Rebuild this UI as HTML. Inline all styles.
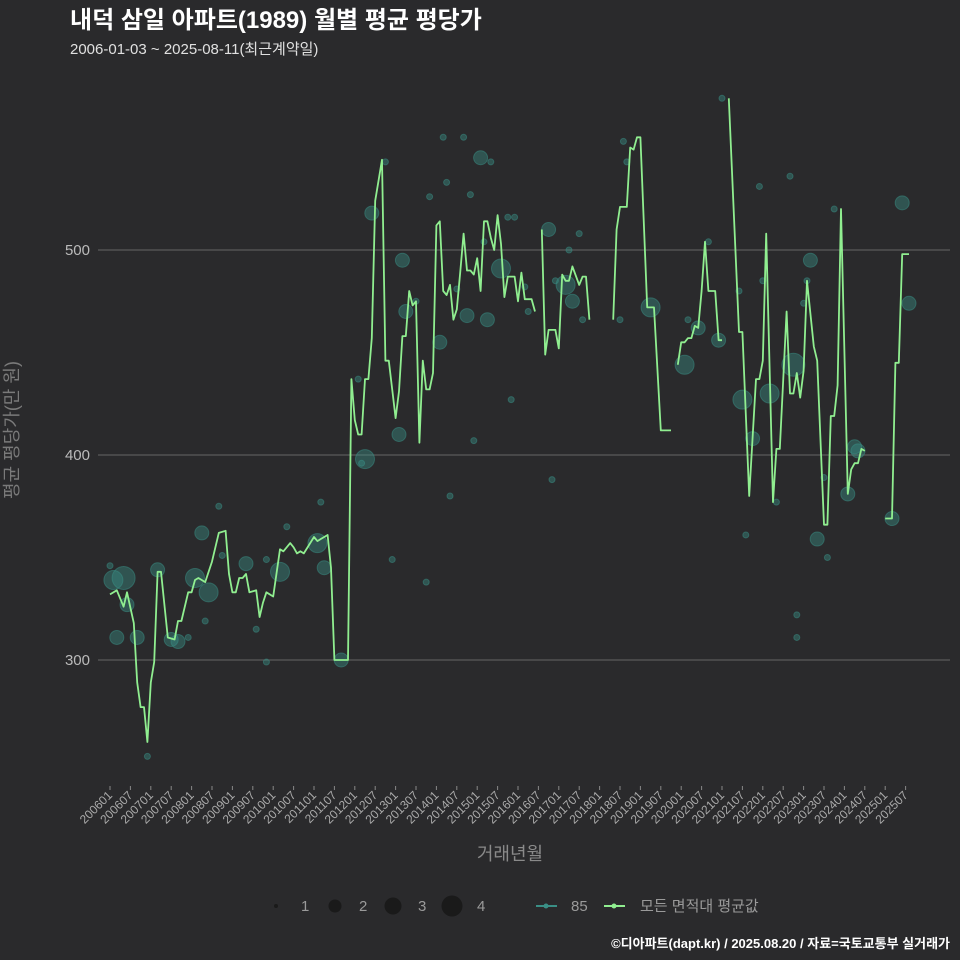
<!DOCTYPE html>
<html><head><meta charset="utf-8">
<style>
html,body{margin:0;padding:0;background:#2a2a2c;}
svg{display:block;font-family:"Liberation Sans","Noto Sans CJK KR",sans-serif;}
</style></head>
<body>
<svg id="chart" width="960" height="960" viewBox="0 0 960 960" xmlns="http://www.w3.org/2000/svg">
<rect x="0" y="0" width="960" height="960" fill="#2a2a2c"/>
<text x="70" y="28" fill="#ffffff" font-size="24" font-weight="bold">내덕 삼일 아파트(1989) 월별 평균 평당가</text>
<text x="70" y="54" fill="#e0e0e0" font-size="15">2006-01-03 ~ 2025-08-11(최근계약일)</text>
<g id="grid"></g>
<g id="yaxis"></g>
<g id="xaxis"></g>
<g id="bubbles"></g>
<g id="lines"></g>
<text x="18" y="430" fill="#7a7a7a" font-size="18" text-anchor="middle" transform="rotate(-90 18 430)">평균 평당가(만 원)</text>
<text x="510" y="860" fill="#8a8a8a" font-size="18" text-anchor="middle">거래년월</text>
<g>
  <circle cx="276" cy="906" r="2" fill="#1a1a1a"/>
  <text x="301" y="911" fill="#9a9a9a" font-size="15">1</text>
  <circle cx="335" cy="906" r="6.5" fill="#1a1a1a"/>
  <text x="359" y="911" fill="#9a9a9a" font-size="15">2</text>
  <circle cx="393" cy="906" r="8.5" fill="#1a1a1a"/>
  <text x="418" y="911" fill="#9a9a9a" font-size="15">3</text>
  <circle cx="452" cy="906" r="10.5" fill="#1a1a1a"/>
  <text x="477" y="911" fill="#9a9a9a" font-size="15">4</text>
  <line x1="536" y1="906" x2="557" y2="906" stroke="#3a8f86" stroke-width="2"/>
  <circle cx="546" cy="906" r="2.5" fill="#3a8f86"/>
  <text x="571" y="911" fill="#9a9a9a" font-size="15">85</text>
  <line x1="604" y1="906" x2="625" y2="906" stroke="#90ee90" stroke-width="2"/>
  <circle cx="614" cy="906" r="2.5" fill="#90ee90"/>
  <text x="640" y="911" fill="#9a9a9a" font-size="15">모든 면적대 평균값</text>
</g>
<text x="950" y="948" fill="#ffffff" font-size="13" font-weight="bold" text-anchor="end">©디아파트(dapt.kr) / 2025.08.20 / 자료=국토교통부 실거래가</text>
</svg>
<script>
const yTicks = [300, 400, 500];
const xTickLabels = ["200601","200607","200701","200707","200801","200807","200901","200907","201001","201007","201101","201107","201201","201207","201301","201307","201401","201407","201501","201507","201601","201607","201701","201707","201801","201807","201901","201907","202001","202007","202101","202107","202201","202207","202301","202307","202401","202407","202501","202507"];
const lineMonths = ["200601","200603","200605","200606","200608","200609","200610","200611","200612","200701","200702","200703","200704","200706","200708","200709","200710","200712","200801","200802","200803","200805","200807","200809","200811","200812","200901","200902","200903","200904","200905","200906","200908","200909","200910","200911","201001","201003","201004","201006","201007","201008","201009","201010","201101","201102","201103","201105","201106","201107","201111",
"201112","201201","201202","201203","201204","201205","201206","201207","201209","201210","201211","201301","201302","201303","201304","201305","201306","201307","201308","201309","201310","201311","201312","201401","201402","201403","201404","201405","201406","201407","201408","201409","201410","201411","201412","201501","201502","201503","201504","201505","201506","201507","201508","201509","201510","201512","201601","201602","201603","201605","201606","201607",
"201608","201609","201610","201612","201701","201702","201703","201704","201705","201707","201708","201709","201710","201711",
"201805","201806","201807","201809","201810","201811","201812","201901","201903","201905","201907","201910","201911",
"201912","202001","202002","202003","202004","202005","202006","202007","202008","202009","202011","202012","202101","202102",
"202103","202106","202107","202109","202111","202112","202201","202202","202204","202205","202206","202208","202209","202210","202211","202212","202301","202302","202304","202305","202307","202308","202309","202310","202311","202312","202402","202403","202404","202405","202406","202407","202408",
"202501","202503","202504","202505","202506","202508"];
const lineValues = [332,334,326,333,318,289,277,277,260,289,299,343,343,311,310,319,319,333,333,339,340,338,348,362,363,342,333,333,340,340,342,333,334,321,328,333,331,354,353,357,355,352,353,352,360,358,359,361,345,300,300,
437,417,410,410,437,437,457,524,544,446,446,418,431,458,458,480,473,475,406,446,432,432,440,512,514,480,478,483,466,471,489,508,490,490,488,496,480,514,514,506,500,517,503,477,487,487,475,489,476,476,470,null,
510,449,461,461,452,488,485,485,492,483,487,487,466,null,
466,510,521,521,550,549,555,555,472,472,412,412,null,
444,455,455,457,457,463,462,480,504,480,480,456,456,null,
574,460,460,380,437,437,446,508,377,403,403,470,430,430,440,428,441,485,453,446,366,366,419,419,434,520,381,393,396,396,403,402,null,
369,369,445,445,498,498];
const bubbleMonths = ["200602","200605","200603","200601","200606","200609","200612","200703","200707","200709","200712","200802","200804","200806","200809","200805","200810","200905","200908","200911","200911","201003","201005","201102","201104","201103","201109",
"201206","201303","201304","201302","201204","201402","201410","201504","201508","201502","201610","201703","201705",
"201210","201202","201203","201212","201310","201405","201412","201511","201611","201403","201409","201404","201311","201411","201505","201510","201512","201307","201407","201503","201603","201604","201707","201704","201708","201612",
"201904","202002","202006","202012","202303","202506","202508","202107","202110","202203","202210","202402","202404","202405","202305","202503",
"201808","201809","201807","202003","202009","202101","202106","202112","202209","202201","202301","202302","202310","202205","202108","202307","202211","202211","202308"];
const bubbleValues = [339,340,311,346,327,311,253,344,310,309,311,340,362,333,375,319,351,347,315,299,349,343,365,357,345,377,300,
518,495,470,410,398,455,468,466,491,545,510,483,475,
543,437,396,349,338,380,407,427,388,555,555,533,526,527,543,516,516,475,481,504,482,470,508,500,466,485,
472,444,462,456,495,523,474,427,408,430,444,381,404,402,359,369,
553,543,466,466,504,574,480,531,536,485,474,485,520,377,361,389,322,311,350];
const bubbleCounts = [3,4,2,1,2,2,1,2,2,2,1,3,2,3,1,1,1,2,1,1,1,3,1,3,2,1,2,
2,2,2,2,3,2,2,2,3,2,2,3,2,
1,1,1,1,1,1,1,1,1,1,1,1,1,1,1,1,1,1,1,1,1,1,1,1,1,1,
3,3,2,2,2,2,2,3,2,3,4,2,2,2,2,2,
1,1,1,1,1,1,1,1,1,1,1,1,1,1,1,1,1,1,1];

const NS = "http://www.w3.org/2000/svg";
function monthIndex(s){ return (parseInt(s.slice(0,4))-2006)*12 + parseInt(s.slice(4,6)) - 1; }
function xScale(s){ return 110 + monthIndex(s)*3.40; }
function yScale(v){ return 250 + (500 - v)*2.05; }
function radius(c){ return [0,3,7,9.5,11.5][c]; }

const grid = document.getElementById('grid');
const yaxis = document.getElementById('yaxis');
yTicks.forEach(t=>{
  const l = document.createElementNS(NS,'line');
  l.setAttribute('x1',98); l.setAttribute('x2',950);
  l.setAttribute('y1',yScale(t)); l.setAttribute('y2',yScale(t));
  l.setAttribute('stroke','#666'); l.setAttribute('stroke-width','1');
  
  
  grid.appendChild(l);
  const tx = document.createElementNS(NS,'text');
  tx.setAttribute('x',90); tx.setAttribute('y',yScale(t)+5);
  tx.setAttribute('fill','#bbbbbb'); tx.setAttribute('font-size','15'); tx.setAttribute('text-anchor','end');
  tx.textContent = t;
  
  
  yaxis.appendChild(tx);
});
const xaxis = document.getElementById('xaxis');
xTickLabels.forEach(s=>{
  const x = xScale(s);
  const tk = document.createElementNS(NS,'line');
  tk.setAttribute('x1',x); tk.setAttribute('x2',x); tk.setAttribute('y1',786); tk.setAttribute('y2',790);
  tk.setAttribute('stroke','#888');
  
  
  xaxis.appendChild(tk);
  const tx = document.createElementNS(NS,'text');
  tx.setAttribute('x',x+3); tx.setAttribute('y',796);
  tx.setAttribute('fill','#aaaaaa'); tx.setAttribute('font-size','12'); tx.setAttribute('text-anchor','end');
  tx.setAttribute('transform','rotate(-45 '+(x+3)+' 796)');
  tx.textContent = s;
  
  
  xaxis.appendChild(tx);
});
const bub = document.getElementById('bubbles');
bubbleMonths.forEach((m,i)=>{
  const c = document.createElementNS(NS,'circle');
  c.setAttribute('cx',xScale(m)); c.setAttribute('cy',yScale(bubbleValues[i]));
  c.setAttribute('r',radius(bubbleCounts[i]));
  c.setAttribute('fill','#3a8f86'); c.setAttribute('fill-opacity','0.42');
  c.setAttribute('stroke','#3a8f86'); c.setAttribute('stroke-opacity','0.5');
  
  
  bub.appendChild(c);
});
const lines = document.getElementById('lines');
let d = ''; let pen = false;
lineMonths.forEach((m,i)=>{
  const v = lineValues[i];
  if (v === null){ pen = false; return; }
  d += (pen ? 'L' : 'M') + xScale(m).toFixed(1) + ',' + yScale(v).toFixed(1);
  pen = true;
});
const p = document.createElementNS(NS,'path');
p.setAttribute('d',d); p.setAttribute('fill','none');
p.setAttribute('stroke','#90ee90'); p.setAttribute('stroke-width','1.8'); p.setAttribute('stroke-linejoin','round');


lines.appendChild(p);
</script>
</body></html>
